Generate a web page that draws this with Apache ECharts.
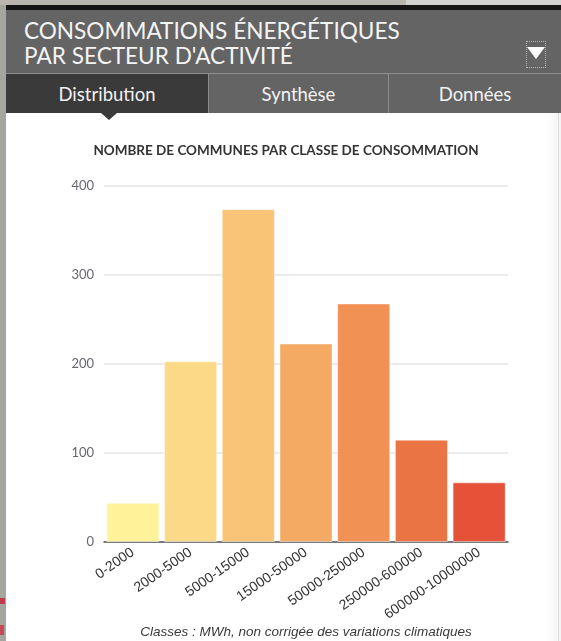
<!DOCTYPE html>
<html>
<head>
<meta charset="utf-8">
<script src="https://cdn.jsdelivr.net/npm/echarts@6/dist/echarts.min.js"></script>
<style>
  html, body { margin: 0; padding: 0; }
  body { width: 561px; height: 641px; position: relative; overflow: hidden; background: #a7a69e; font-family: Lato, sans-serif; }
  .topstrip { position: absolute; left: 0; top: 0; width: 561px; height: 5px; background: #b8b6ae; }
  .topstrip2 { position: absolute; left: 406px; top: 0; width: 155px; height: 5px; background: #d2d2d0; }
  .black { position: absolute; left: 6px; top: 5px; width: 555px; height: 5px; background: #151515; }
  .header { position: absolute; left: 6px; top: 10px; width: 555px; height: 63px; background: #646464; }
  .header .t { position: absolute; left: 18px; top: 8px; color: #f4f4f4; font-size: 22.6px; line-height: 25px; }
  .sep { position: absolute; left: 6px; top: 73px; width: 555px; height: 1px; background: #8c8c8c; }
  .tab { position: absolute; top: 74px; height: 39px; background: #646464; color: #f2f2f2; font-size: 18.5px; line-height: 40px; text-align: center; }
  .tab.on { background: #3a3a3a; }
  .vsep { position: absolute; top: 74px; width: 1px; height: 39px; background: #8c8c8c; }
  .pointer { position: absolute; left: 101px; top: 113px; width: 0; height: 0; border-left: 8px solid transparent; border-right: 8px solid transparent; border-top: 7px solid #3a3a3a; z-index: 3; }
  .dd { position: absolute; left: 526px; top: 41px; width: 18px; height: 25px; border: 1px dotted #b5b5b5; }
  .dd .tri { position: absolute; left: 0px; top: 5px; width: 0; height: 0; border-left: 9px solid transparent; border-right: 9px solid transparent; border-top: 12px solid #ffffff; }
  .panel { position: absolute; left: 6px; top: 113px; width: 555px; height: 528px; background: #ffffff; }
  .rshade { position: absolute; left: 546px; top: 113px; width: 15px; height: 528px; background: linear-gradient(to right, #ffffff, #f3f3f3); }
  .rline { position: absolute; left: 558px; top: 113px; width: 1px; height: 528px; background: #dedede; }
  .red1 { position: absolute; left: 0; top: 598px; width: 5px; height: 6px; background: #c23a4e; }
  .red2 { position: absolute; left: 0; top: 625px; width: 4px; height: 10px; background: #c8485a; }
  #chart { position: absolute; left: 6px; top: 113px; width: 549px; height: 528px; }
</style>
</head>
<body>
<div class="topstrip"></div>
<div class="topstrip2"></div>
<div class="black"></div>
<div class="header">
  <div class="t">CONSOMMATIONS ÉNERGÉTIQUES<br>PAR SECTEUR D'ACTIVITÉ</div>
</div>
<div class="dd"><div class="tri"></div></div>
<div class="sep"></div>
<div class="tab on" style="left:6px;width:202px;">Distribution</div>
<div class="vsep" style="left:208px;"></div>
<div class="tab" style="left:209px;width:179px;">Synthèse</div>
<div class="vsep" style="left:388px;"></div>
<div class="tab" style="left:389px;width:172px;">Données</div>
<div class="panel"></div>
<div class="rshade"></div>
<div class="rline"></div>
<div class="pointer"></div>
<div class="red1"></div>
<div class="red2"></div>
<div id="chart"></div>
<script>
// classes de consommation (MWh)
const classes = ['0-2000', '2000-5000', '5000-15000', '15000-50000', '50000-250000', '250000-600000', '600000-10000000']
const communes = [44, 203, 374, 223, 268, 115, 67]
const colors = ['#fff39a', '#fcd986', '#f9c475', '#f5aa63', '#f19154', '#eb7444', '#e55238']

const chartTitle = 'NOMBRE DE COMMUNES PAR CLASSE DE CONSOMMATION'
const footnote = 'Classes : MWh, non corrigée des variations climatiques'

let chart = echarts.init(document.getElementById('chart'))

chart.setOption({
    animation: false,
    grid: {
        left: 98,
        right: 47,
        top: 73,
        bottom: 99
    },
    graphic: [{
        type: 'text',
        x: 280,
        y: 38,
        style: {
            text: chartTitle,
            fill: '#333333',
            fontFamily: 'Lato',
            fontWeight: 'bold',
            fontSize: 13.5,
            align: 'center',
            verticalAlign: 'middle'
        }
    }, {
        type: 'text',
        x: 300,
        y: 519,
        style: {
            text: footnote,
            fill: '#3a3a3a',
            fontFamily: 'Liberation Sans',
            fontStyle: 'italic',
            fontSize: 13.5,
            align: 'center',
            verticalAlign: 'middle'
        }
    }],
    xAxis: {
        type: 'category',
        data: classes,
        axisTick: { show: false },
        axisLine: {
            lineStyle: { color: '#555555', width: 1.5 }
        },
        axisLabel: {
            interval: 0,
            rotate: 35,
            margin: 9,
            color: '#333333',
            fontFamily: 'Liberation Sans',
            fontSize: 14
        }
    },
    yAxis: {
        type: 'value',
        min: 0,
        max: 400,
        interval: 100,
        axisLine: { show: false },
        axisTick: { show: false },
        axisLabel: {
            margin: 10,
            color: '#666670',
            fontFamily: 'Lato',
            fontSize: 13
        },
        splitLine: {
            lineStyle: { color: '#e4e4e4', width: 1.5 }
        }
    },
    series: [{
        type: 'bar',
        barCategoryGap: '8%',
        data: communes.map((v, i) => ({
            value: v,
            itemStyle: { color: colors[i] }
        })),
        itemStyle: {
            borderColor: 'rgba(255,255,255,0.45)',
            borderWidth: 1
        }
    }]
})
</script>
</body>
</html>
